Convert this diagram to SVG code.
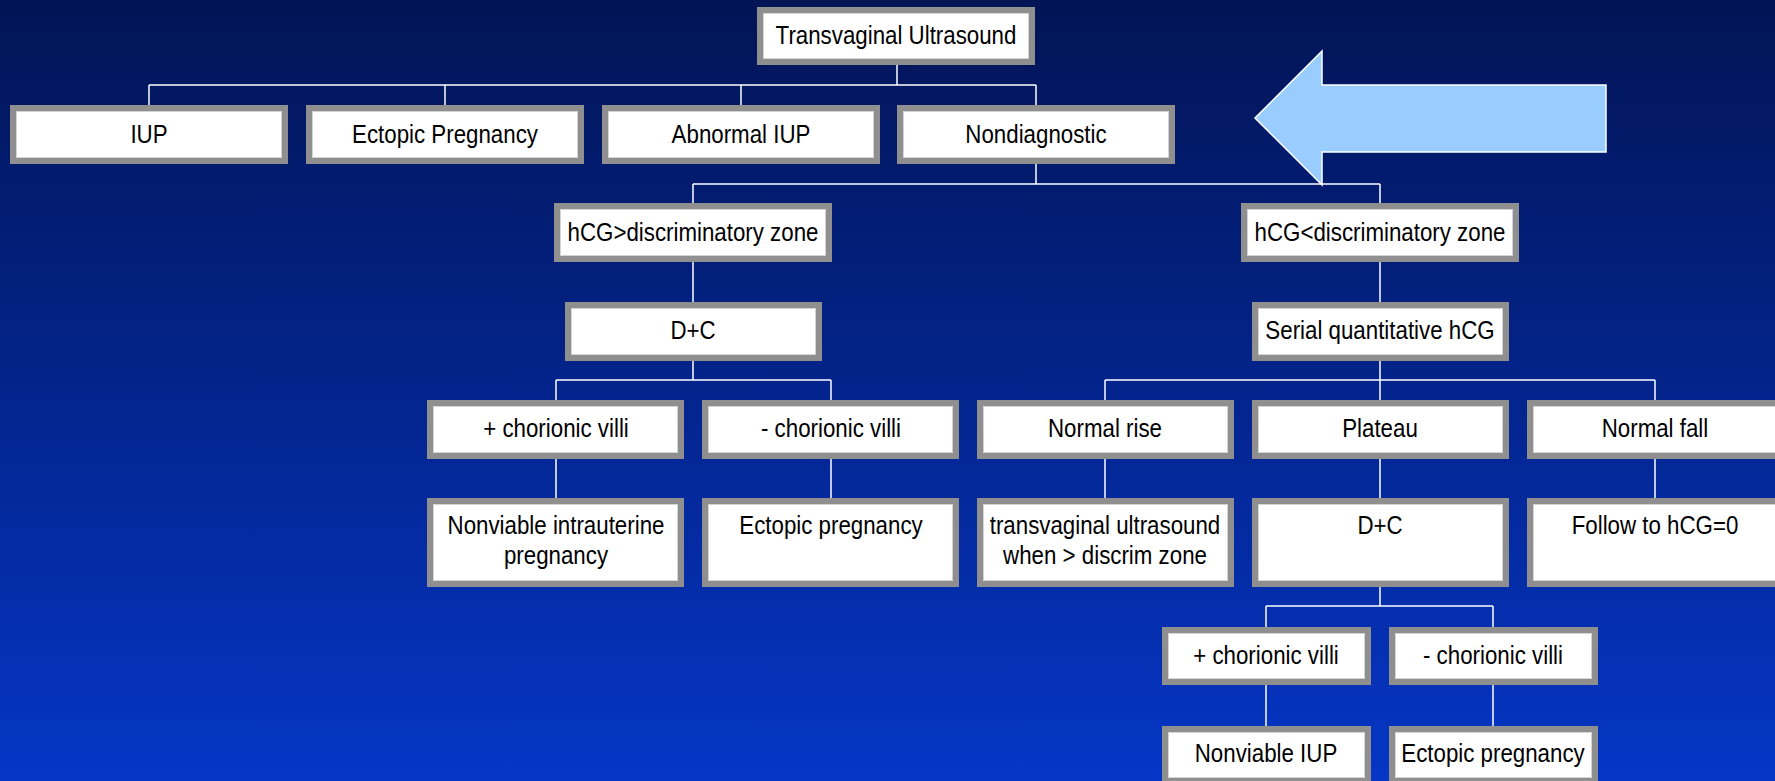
<svg xmlns="http://www.w3.org/2000/svg" width="1775" height="781" viewBox="0 0 1775 781">
<defs>
<linearGradient id="bg" x1="0" y1="0" x2="0" y2="1">
<stop offset="0" stop-color="#021455"/>
<stop offset="0.5" stop-color="#03248c"/>
<stop offset="1" stop-color="#0536c6"/>
</linearGradient>
</defs>
<style>
.o{fill:#8f8f8f}
.i{fill:#ffffff;stroke:#d4d4d4;stroke-width:1}
.t{font-family:"Liberation Sans",Arial,sans-serif;font-size:22.3px;fill:#000;text-anchor:middle}
.c line{stroke:#ffffff;stroke-width:1.5}
</style>
<rect width="1775" height="781" fill="url(#bg)"/>
<g class="c" id="connectors">
<line x1="897" y1="65" x2="897" y2="85"/>
<line x1="149" y1="85" x2="1036" y2="85"/>
<line x1="149" y1="85" x2="149" y2="105"/>
<line x1="445" y1="85" x2="445" y2="105"/>
<line x1="741" y1="85" x2="741" y2="105"/>
<line x1="1036" y1="85" x2="1036" y2="105"/>
<line x1="1036" y1="164" x2="1036" y2="184"/>
<line x1="693" y1="184" x2="1380" y2="184"/>
<line x1="693" y1="184" x2="693" y2="203"/>
<line x1="1380" y1="184" x2="1380" y2="203"/>
<line x1="693" y1="262" x2="693" y2="302"/>
<line x1="1380" y1="262" x2="1380" y2="302"/>
<line x1="693" y1="361" x2="693" y2="380"/>
<line x1="556" y1="380" x2="831" y2="380"/>
<line x1="556" y1="380" x2="556" y2="400"/>
<line x1="831" y1="380" x2="831" y2="400"/>
<line x1="1380" y1="361" x2="1380" y2="380"/>
<line x1="1105" y1="380" x2="1655" y2="380"/>
<line x1="1105" y1="380" x2="1105" y2="400"/>
<line x1="1380" y1="380" x2="1380" y2="400"/>
<line x1="1655" y1="380" x2="1655" y2="400"/>
<line x1="556" y1="459" x2="556" y2="498"/>
<line x1="831" y1="459" x2="831" y2="498"/>
<line x1="1105" y1="459" x2="1105" y2="498"/>
<line x1="1380" y1="459" x2="1380" y2="498"/>
<line x1="1655" y1="459" x2="1655" y2="498"/>
<line x1="1380" y1="587" x2="1380" y2="606"/>
<line x1="1266" y1="606" x2="1493" y2="606"/>
<line x1="1266" y1="606" x2="1266" y2="627"/>
<line x1="1493" y1="606" x2="1493" y2="627"/>
<line x1="1266" y1="685" x2="1266" y2="726"/>
<line x1="1493" y1="685" x2="1493" y2="726"/>
</g>
<g id="arrow">
<polygon points="1255,118 1322,51 1322,85 1606,85 1606,152 1322,152 1322,185" fill="#99ccff" stroke="#ffffff" stroke-width="1.5"/>
</g>
<g id="n-tvus"><rect class="o" x="757" y="7" width="278" height="58"/><rect class="i" x="763.5" y="13.5" width="265" height="45"/><text class="t" transform="translate(896,44) scale(1,1.14)">Transvaginal Ultrasound</text></g>
<g id="n-iup"><rect class="o" x="10" y="105" width="278" height="59"/><rect class="i" x="16.5" y="111.5" width="265" height="46"/><text class="t" transform="translate(149,143) scale(1,1.14)">IUP</text></g>
<g id="n-ectopic"><rect class="o" x="306" y="105" width="278" height="59"/><rect class="i" x="312.5" y="111.5" width="265" height="46"/><text class="t" transform="translate(445,143) scale(1,1.14)">Ectopic Pregnancy</text></g>
<g id="n-abnormal"><rect class="o" x="602" y="105" width="278" height="59"/><rect class="i" x="608.5" y="111.5" width="265" height="46"/><text class="t" transform="translate(741,143) scale(1,1.14)">Abnormal IUP</text></g>
<g id="n-nondiag"><rect class="o" x="897" y="105" width="278" height="59"/><rect class="i" x="903.5" y="111.5" width="265" height="46"/><text class="t" transform="translate(1036,143) scale(1,1.14)">Nondiagnostic</text></g>
<g id="n-hcg-gt"><rect class="o" x="554" y="203" width="278" height="59"/><rect class="i" x="560.5" y="209.5" width="265" height="46"/><text class="t" transform="translate(693,241) scale(1,1.14)">hCG&gt;discriminatory zone</text></g>
<g id="n-hcg-lt"><rect class="o" x="1241" y="203" width="278" height="59"/><rect class="i" x="1247.5" y="209.5" width="265" height="46"/><text class="t" transform="translate(1380,241) scale(1,1.14)">hCG&lt;discriminatory zone</text></g>
<g id="n-dc1"><rect class="o" x="565" y="302" width="257" height="59"/><rect class="i" x="571.5" y="308.5" width="244" height="46"/><text class="t" transform="translate(693,339) scale(1,1.14)">D+C</text></g>
<g id="n-serial"><rect class="o" x="1252" y="302" width="257" height="59"/><rect class="i" x="1258.5" y="308.5" width="244" height="46"/><text class="t" transform="translate(1380,339) scale(1,1.14)">Serial quantitative hCG</text></g>
<g id="n-pcv1"><rect class="o" x="427" y="400" width="257" height="59"/><rect class="i" x="433.5" y="406.5" width="244" height="46"/><text class="t" transform="translate(556,437) scale(1,1.14)">+ chorionic villi</text></g>
<g id="n-mcv1"><rect class="o" x="702" y="400" width="257" height="59"/><rect class="i" x="708.5" y="406.5" width="244" height="46"/><text class="t" transform="translate(831,437) scale(1,1.14)">- chorionic villi</text></g>
<g id="n-rise"><rect class="o" x="977" y="400" width="257" height="59"/><rect class="i" x="983.5" y="406.5" width="244" height="46"/><text class="t" transform="translate(1105,437) scale(1,1.14)">Normal rise</text></g>
<g id="n-plateau"><rect class="o" x="1252" y="400" width="257" height="59"/><rect class="i" x="1258.5" y="406.5" width="244" height="46"/><text class="t" transform="translate(1380,437) scale(1,1.14)">Plateau</text></g>
<g id="n-fall"><rect class="o" x="1527" y="400" width="257" height="59"/><rect class="i" x="1533.5" y="406.5" width="244" height="46"/><text class="t" transform="translate(1655,437) scale(1,1.14)">Normal fall</text></g>
<g id="n-nviu"><rect class="o" x="427" y="498" width="257" height="89"/><rect class="i" x="433.5" y="504.5" width="244" height="76"/><text class="t" transform="translate(556,534) scale(1,1.14)">Nonviable intrauterine</text><text class="t" transform="translate(556,564) scale(1,1.14)">pregnancy</text></g>
<g id="n-ep1"><rect class="o" x="702" y="498" width="257" height="89"/><rect class="i" x="708.5" y="504.5" width="244" height="76"/><text class="t" transform="translate(831,534) scale(1,1.14)">Ectopic pregnancy</text></g>
<g id="n-tvus2"><rect class="o" x="977" y="498" width="257" height="89"/><rect class="i" x="983.5" y="504.5" width="244" height="76"/><text class="t" transform="translate(1105,534) scale(1,1.14)">transvaginal ultrasound</text><text class="t" transform="translate(1105,564) scale(1,1.14)">when &gt; discrim zone</text></g>
<g id="n-dc2"><rect class="o" x="1252" y="498" width="257" height="89"/><rect class="i" x="1258.5" y="504.5" width="244" height="76"/><text class="t" transform="translate(1380,534) scale(1,1.14)">D+C</text></g>
<g id="n-follow"><rect class="o" x="1527" y="498" width="257" height="89"/><rect class="i" x="1533.5" y="504.5" width="244" height="76"/><text class="t" transform="translate(1655,534) scale(1,1.14)">Follow to hCG=0</text></g>
<g id="n-pcv2"><rect class="o" x="1162" y="627" width="209" height="58"/><rect class="i" x="1168.5" y="633.5" width="196" height="45"/><text class="t" transform="translate(1266,664) scale(1,1.14)">+ chorionic villi</text></g>
<g id="n-mcv2"><rect class="o" x="1389" y="627" width="209" height="58"/><rect class="i" x="1395.5" y="633.5" width="196" height="45"/><text class="t" transform="translate(1493,664) scale(1,1.14)">- chorionic villi</text></g>
<g id="n-nviup"><rect class="o" x="1162" y="726" width="209" height="58"/><rect class="i" x="1168.5" y="732.5" width="196" height="45"/><text class="t" transform="translate(1266,762) scale(1,1.14)">Nonviable IUP</text></g>
<g id="n-ep2"><rect class="o" x="1389" y="726" width="209" height="58"/><rect class="i" x="1395.5" y="732.5" width="196" height="45"/><text class="t" transform="translate(1493,762) scale(1,1.14)">Ectopic pregnancy</text></g>
</svg>
